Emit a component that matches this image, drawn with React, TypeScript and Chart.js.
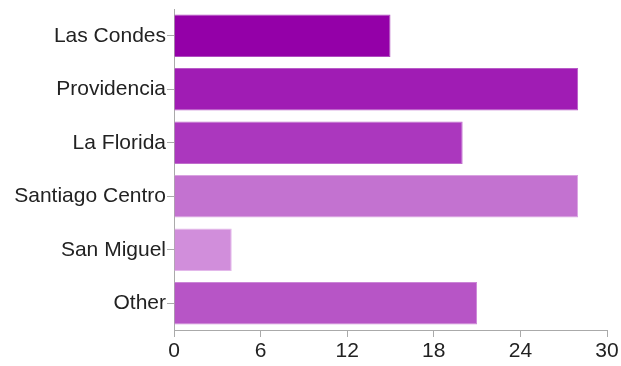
import React, { useEffect, useRef } from "react";
import { Chart, registerables } from "chart.js";

Chart.register(...registerables);

const categories = ["Las Condes", "Providencia", "La Florida", "Santiago Centro", "San Miguel", "Other"];
const values = [15, 28, 20, 28, 4, 21];
const barColors = ["#9400A8", "#A01CB4", "#AB37BE", "#C372D0", "#D18EDB", "#B755C6"];
const borderColors = ["#B04DC0", "#B95BC8", "#C06DCC", "#D9A2E1", "#E3B8EA", "#CB86D6"];
const xMin = 0;
const xMax = 30;
const xStep = 6;

export default function App() {
  const ref = useRef<HTMLCanvasElement | null>(null);
  useEffect(() => {
    document.body.style.margin = "0";
    const ctx = ref.current!;
    const font = { family: "'Liberation Sans', Arial, Helvetica, sans-serif", size: 21 };
    const chart = new Chart(ctx, {
      type: "bar",
      data: {
        labels: categories,
        datasets: [
          {
            data: values,
            backgroundColor: barColors,
            borderColor: borderColors,
            borderWidth: 1,
            barPercentage: 0.79,
            categoryPercentage: 1,
          },
        ],
      },
      options: {
        indexAxis: "y",
        animation: false,
        responsive: false,
        maintainAspectRatio: false,
        layout: { padding: { top: 9, right: 14, left: 0, bottom: 0 } },
        plugins: { legend: { display: false }, tooltip: { enabled: false } },
        scales: {
          x: {
            min: xMin,
            max: xMax,
            ticks: { stepSize: xStep, color: "#222", font, padding: 2 },
            grid: { drawOnChartArea: false, tickLength: 7, color: "#aaa" },
            border: { color: "#aaa", width: 1 },
            afterFit: (s: any) => { s.height = 36; },
          },
          y: {
            ticks: { color: "#222", font, padding: 1 },
            grid: { drawOnChartArea: false, tickLength: 7, color: "#aaa", offset: false },
            border: { color: "#aaa", width: 1 },
            afterFit: (s: any) => { s.width = 174; s.paddingTop = 0; s.paddingBottom = 0; },
          },
        },
      },
    });
    return () => chart.destroy();
  }, []);
  return (
    <div style={{ width: 621, height: 366 }}>
      <canvas ref={ref} width={621} height={366} style={{ display: "block" }} />
    </div>
  );
}
